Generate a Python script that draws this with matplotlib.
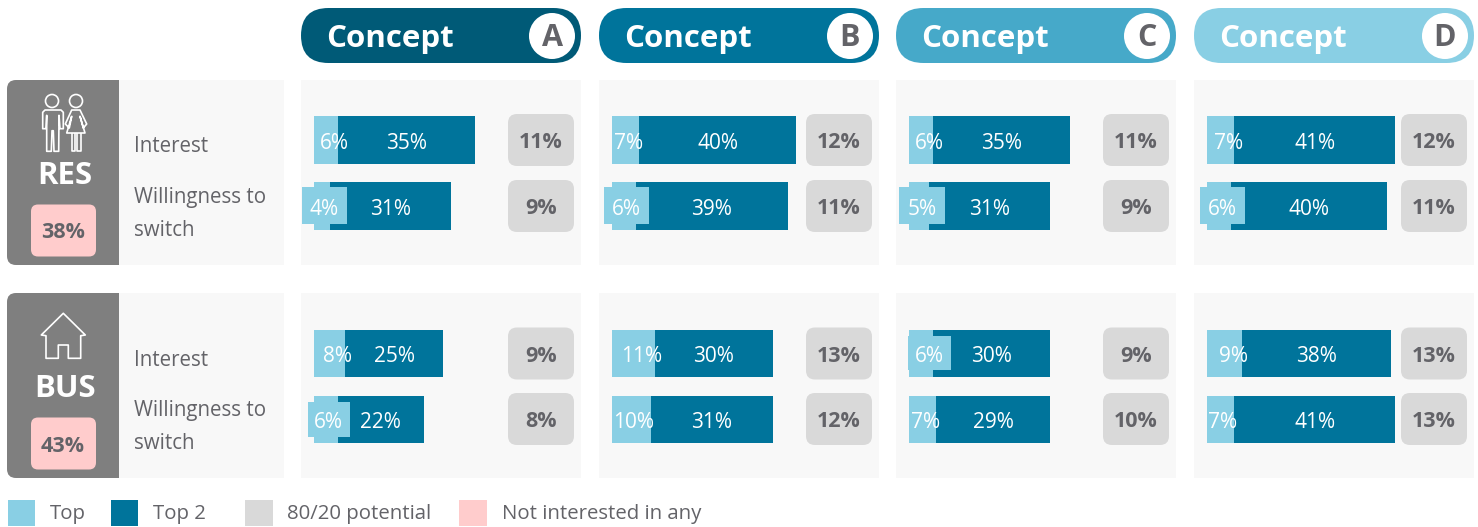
import matplotlib
matplotlib.use("Agg")
import matplotlib.pyplot as plt
from matplotlib.patches import FancyBboxPatch, Rectangle, Circle, Polygon

plt.rcParams["font.family"] = ["Open Sans", "DejaVu Sans"]

concepts = ["A", "B", "C", "D"]
segments = ["RES", "BUS"]
metrics = ["Interest", "Willingness to\nswitch"]
not_interested = [38, 43]

# one list per segment/metric, one value per concept
res_interest_top = [6, 7, 6, 7]
res_interest_top2 = [35, 40, 35, 41]
res_switch_top = [4, 6, 5, 6]
res_switch_top2 = [31, 39, 31, 40]
bus_interest_top = [8, 11, 6, 9]
bus_interest_top2 = [25, 30, 30, 38]
bus_switch_top = [6, 10, 7, 7]
bus_switch_top2 = [22, 31, 29, 41]

res_interest_pot = [11, 12, 11, 12]
res_switch_pot = [9, 11, 9, 11]
bus_interest_pot = [9, 13, 9, 13]
bus_switch_pot = [8, 12, 10, 13]

LIGHT = "#89CFE4"
DARK = "#00749B"
GREY = "#D9D9D9"
PINK = "#FFCCCC"
PANEL = "#F8F8F8"
SIDE = "#7F7F7F"
TXT = "#636368"
pill_colors = ["#005A77", "#00749B", "#46A9C9", "#89CFE4"]

PX_PER_PCT = 3.92
col_x = [301, 599, 896, 1194]
bar_x = [314, 612, 909, 1207]
pot_x = [508, 806, 1103, 1401]
group_y = [80, 293]
bar_y = [[116, 182], [329.5, 395.5]]
pot_y = [[114, 180], [327.5, 393]]

# where the small "Top" label sits, measured from the start of the bar
top_label_dx = [
    [[20, 17, 20, 22], [10, 14, 13, 15]],
    [[24, 30, 20, 26], [14, 22, 17, 16]],
]
# labels that carry their own light box: (group, metric, concept) -> x0, x1, y0, y1
label_boxes = {
    (0, 1, 0): (302, 347, 187, 224),
    (0, 1, 1): (604, 649, 187, 224),
    (0, 1, 2): (899, 945, 187, 224),
    (0, 1, 3): (1200, 1245, 187, 224),
    (1, 1, 0): (308, 350, 402, 437),
    (1, 0, 2): (908, 951, 336, 370),
}

tops = [[res_interest_top, res_switch_top], [bus_interest_top, bus_switch_top]]
top2s = [[res_interest_top2, res_switch_top2], [bus_interest_top2, bus_switch_top2]]
pots = [[res_interest_pot, res_switch_pot], [bus_interest_pot, bus_switch_pot]]

fig = plt.figure(figsize=(14.78, 5.27), dpi=100)
ax = fig.add_axes([0, 0, 1, 1])
ax.set_xlim(0, 1478)
ax.set_ylim(527, 0)
ax.axis("off")


def rbox(x0, y0, w, h, r, color, z=1):
    p = FancyBboxPatch((x0 + r, y0 + r), w - 2 * r, h - 2 * r,
                       boxstyle=f"round,pad={r},rounding_size={r}",
                       fc=color, ec="none", zorder=z)
    ax.add_patch(p)


def outline(pts, closed=True):
    ax.add_patch(Polygon(pts, closed=closed, fill=False, ec="white", lw=1.2,
                         joinstyle="round", zorder=4))


# header pills
for i, c in enumerate(concepts):
    rbox(col_x[i], 8, 280, 55, 27.5, pill_colors[i])
    ax.text(col_x[i] + 89, 39, "Concept", color="white", fontsize=22.5,
            fontweight="bold", ha="center", va="center", zorder=3)
    ax.add_patch(Circle((col_x[i] + 251, 36), 23, fc="white", ec="none", zorder=3))
    ax.text(col_x[i] + 251, 38, c, color=TXT, fontsize=22, fontweight="bold",
            ha="center", va="center", zorder=4)

for g, y0 in enumerate(group_y):
    # left block with segment name
    rbox(7, y0, 130, 185, 9, SIDE)
    ax.add_patch(Rectangle((119, y0), 165, 185, fc=PANEL, ec="none", zorder=2))
    ax.text(65, y0 + 96, segments[g], color="white", fontsize=22.5, fontweight="bold",
            ha="center", va="center", zorder=3)
    rbox(31, y0 + 124.5, 65, 52, 7, PINK, z=3)
    ax.text(63, y0 + 153, f"{not_interested[g]}%", color=TXT, fontsize=15.5,
            fontweight="bold", ha="center", va="center", zorder=4)
    ax.text(134, y0 + 67, metrics[0], color=TXT, fontsize=14.8, ha="left",
            va="center", zorder=3)
    ax.text(134, y0 + 134, metrics[1], color=TXT, fontsize=14.8, ha="left",
            va="center", linespacing=1.7, zorder=3)

    for i in range(4):
        ax.add_patch(Rectangle((col_x[i], y0), 280, 185, fc=PANEL, ec="none", zorder=1))
        for m in range(2):
            top = tops[g][m][i]
            top2 = top2s[g][m][i]
            y = bar_y[g][m]
            ax.barh(y + 24, top * PX_PER_PCT, height=47.5, left=bar_x[i],
                    color=LIGHT, zorder=3)
            dark_x = bar_x[i] + top * PX_PER_PCT
            ax.barh(y + 24, top2 * PX_PER_PCT, height=47.5, left=dark_x,
                    color=DARK, zorder=3)
            box = label_boxes.get((g, m, i))
            if box:
                ax.add_patch(Rectangle((box[0], box[2]), box[1] - box[0], box[3] - box[2],
                                       fc=LIGHT, ec="none", zorder=4))
            ax.text(bar_x[i] + top_label_dx[g][m][i], y + 27.5, f"{top}%", color="white",
                    fontsize=15, ha="center", va="center", zorder=5)
            ax.text(dark_x + top2 * PX_PER_PCT / 2, y + 27.5, f"{top2}%", color="white",
                    fontsize=15, ha="center", va="center", zorder=5)
            rbox(pot_x[i], pot_y[g][m], 66, 52, 9, GREY, z=3)
            ax.text(pot_x[i] + 33, pot_y[g][m] + 28.5, f"{pots[g][m][i]}%", color=TXT,
                    fontsize=15.5, fontweight="bold", ha="center", va="center", zorder=4)

# people icon
for cx in (52, 76):
    ax.add_patch(Circle((cx, 101), 6.5, fill=False, ec="white", lw=1.2, zorder=4))
outline([(45, 110), (61, 110), (63.3, 112.3), (63.3, 128.7), (60, 128.7), (59, 115.3),
         (58.7, 151.3), (54, 151.3), (53.3, 130.7), (52, 130.7), (51.3, 151.3),
         (46.7, 151.3), (46.7, 115.3), (46, 128.7), (42.7, 128.7), (42.7, 112.3)])
outline([(71.7, 110), (80, 110), (86.7, 124), (83.3, 128), (80, 116.3), (85, 133),
         (66.7, 133), (71.7, 116.3), (69.3, 128), (65.3, 124)])
outline([(71.7, 133), (71.7, 151.3), (75.3, 151.3), (75.3, 133)], closed=False)
outline([(76.7, 133), (76.7, 151.3), (80.7, 151.3), (80.7, 133)], closed=False)

# house icon
outline([(63.3, 313.3), (85.3, 335), (80.7, 335.7), (80.7, 358.3), (68.3, 358.3),
         (68.3, 345), (58.3, 345), (58.3, 358.3), (46, 358.3), (46, 335.7), (41.3, 335)])

# legend
legend_items = ["Top", "Top 2", "80/20 potential", "Not interested in any"]
legend_colors = [LIGHT, DARK, GREY, PINK]
legend_x = [8, 111, 245, 459]
legend_w = [27, 27, 28, 28]
legend_tx = [50, 153, 287, 502]
for name, col, x, w, tx in zip(legend_items, legend_colors, legend_x, legend_w, legend_tx):
    ax.add_patch(Rectangle((x, 500), w, 26, fc=col, ec="none"))
    ax.text(tx, 514.5, name, color=TXT, fontsize=14.7, ha="left", va="center")

fig.savefig("out.png", dpi=100)
